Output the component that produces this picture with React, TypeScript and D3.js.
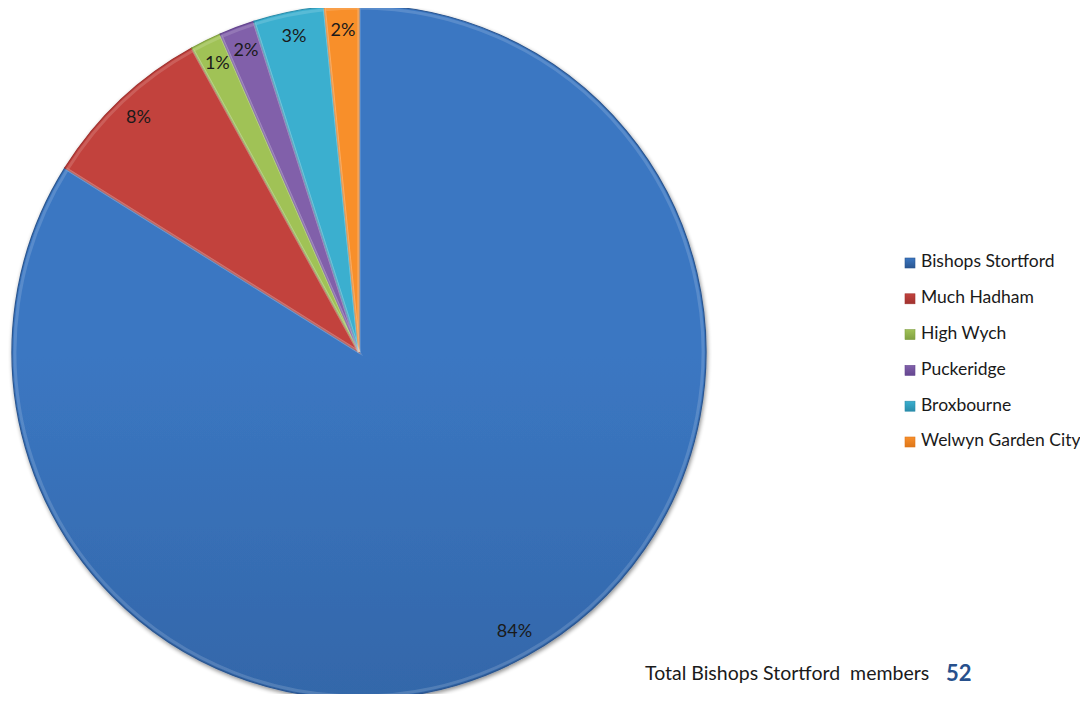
import React from "react";
import * as d3 from "d3";

const categories = ["Bishops Stortford", "Much Hadham", "High Wych", "Puckeridge", "Broxbourne", "Welwyn Garden City"];
const shares = [83.9, 8.1, 1.45, 1.65, 3.3, 1.6];
const topColors = ["#3B77C2", "#C2423E", "#A0C257", "#8160AA", "#3AAFCF", "#F88F2C"];
const bottomColors = ["#2B5690", "#A0322F", "#80A042", "#654690", "#2A8CAA", "#DE7719"];
const totalLabel = "Total Bishops Stortford\u00A0 members";
const totalValue = "52";

const W = 1088;
const H = 702;
const cx = 359;
const cy = 352;
const R = 347;

export default function App() {
  const pie = d3.pie<number>().sort(null).value((d) => d);
  const arcs = pie(shares);
  const arc = d3.arc<d3.PieArcDatum<number>>().innerRadius(0).outerRadius(R);
  const innerArc = d3.arc<d3.PieArcDatum<number>>().innerRadius(0).outerRadius(R - 3);
  const labelArc = d3.arc<d3.PieArcDatum<number>>().innerRadius(R * 0.925).outerRadius(R * 0.925);
  const font = "Lato, 'Open Sans', sans-serif";
  const legendY = d3.scaleLinear().domain([0, categories.length - 1]).range([263, 442]);

  return (
    <div style={{ margin: -8 }}>
      <svg width={W} height={H} style={{ display: "block", background: "#fff" }}>
        <defs>
          {topColors.map((c, i) => (
            <linearGradient key={i} id={`g${i}`} gradientUnits="userSpaceOnUse" x1={0} y1={cy - R} x2={0} y2={cy + R}>
              <stop offset="0%" stopColor={c} />
              <stop offset="100%" stopColor={bottomColors[i]} />
            </linearGradient>
          ))}
          {topColors.map((c, i) => (
            <linearGradient key={"l" + i} id={`lg${i}`} x1="0" y1="0" x2="0" y2="1">
              <stop offset="0%" stopColor={c} />
              <stop offset="100%" stopColor={bottomColors[i]} />
            </linearGradient>
          ))}
          <filter id="shadow" x="-10%" y="-10%" width="120%" height="120%">
            <feGaussianBlur in="SourceAlpha" stdDeviation="2" />
            <feOffset dx="1" dy="2" result="ob" />
            <feComponentTransfer>
              <feFuncA type="linear" slope="0.45" />
            </feComponentTransfer>
            <feMerge>
              <feMergeNode />
              <feMergeNode in="SourceGraphic" />
            </feMerge>
          </filter>
        </defs>
        <g transform={`translate(${cx},${cy})`}>
          <g filter="url(#shadow)">
            {arcs.map((a, i) => (
              <path key={i} d={arc(a) || ""} fill={`url(#g${i})`} stroke={bottomColors[i]} strokeWidth={1.2} />
            ))}
          </g>
          {arcs.map((a, i) => (
            <path key={"h" + i} d={innerArc(a) || ""} fill="none" stroke="#ffffff" strokeOpacity={0.15} strokeWidth={3} />
          ))}
          {arcs.map((a, i) => {
            const [x, y] = labelArc.centroid(a);
            return (
              <text key={"t" + i} x={x} y={y} textAnchor="middle" dominantBaseline="middle" fontFamily={font} fontSize={18} fill="#1a1a1a">
                {Math.round(a.data) + "%"}
              </text>
            );
          })}
        </g>
        <g>
          {categories.map((c, i) => (
            <g key={c} transform={`translate(905,${legendY(i)})`}>
              <rect x={0} y={-5} width={10} height={10} fill={`url(#lg${i})`} stroke={bottomColors[i]} strokeWidth={0.6} />
              <text x={16} y={0} dominantBaseline="middle" fontFamily={font} fontSize={17.5} fill="#1a1a1a">
                {c}
              </text>
            </g>
          ))}
        </g>
        <text x={645} y={680} fontFamily={font} fontSize={19.5} fill="#1a1a1a">
          {totalLabel}
        </text>
        <text x={946} y={681} fontFamily={font} fontSize={22} fontWeight="bold" fill="#27508C">
          {totalValue}
        </text>
      </svg>
    </div>
  );
}
